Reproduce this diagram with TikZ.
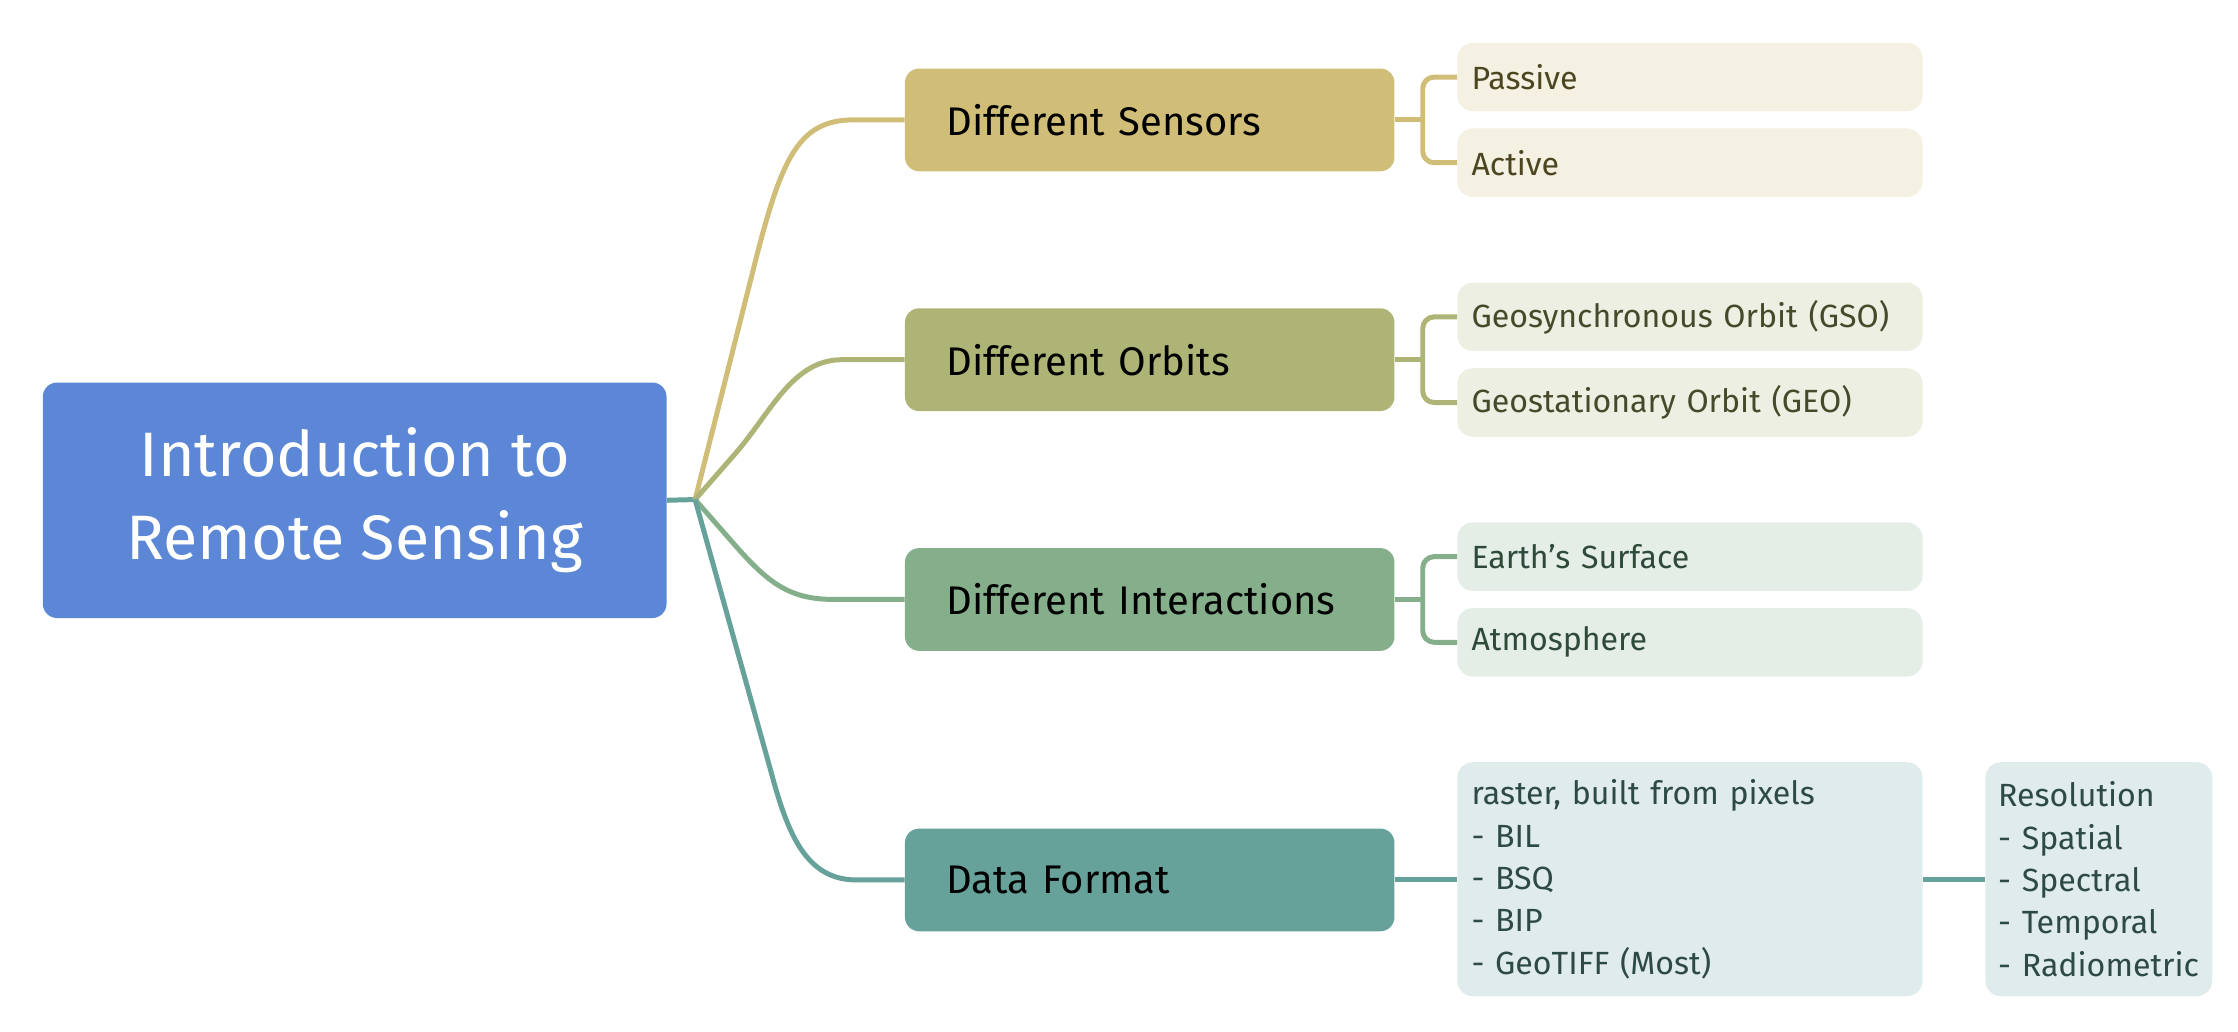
\documentclass[tikz,border=0pt]{standalone}
\usepackage{fontspec}
\setmainfont{Fira Sans}
\definecolor{rootc}{HTML}{5B87D6}
\definecolor{ca}{HTML}{D0BD77}\definecolor{la}{HTML}{F4F0E2}\definecolor{ta}{HTML}{4B4520}
\definecolor{cb}{HTML}{AEB475}\definecolor{lb}{HTML}{EEEFE3}\definecolor{tb}{HTML}{464A2A}
\definecolor{cc}{HTML}{84AF8A}\definecolor{lc}{HTML}{E4EEE6}\definecolor{tc}{HTML}{2F4A38}
\definecolor{cd}{HTML}{66A29A}\definecolor{ld}{HTML}{E0ECEB}\definecolor{td}{HTML}{2D4A45}
\tikzset{
  rootbox/.style={fill=rootc, rounded corners=10pt, minimum width=437pt, minimum height=165pt,
    text=white, align=center, inner sep=0pt, font=\fontsize{44}{58}\selectfont},
  branchbox/.style={rounded corners=10pt, minimum width=343pt, minimum height=72pt,
    text width=285pt, inner xsep=29pt, inner ysep=0pt, align=left, text=black,
    font=\fontsize{28}{32}\selectfont},
  leafbox/.style={rounded corners=11pt, minimum width=326pt, minimum height=48pt,
    text width=306pt, inner xsep=10pt, inner ysep=0pt, align=left,
    font=\fontsize{22.5}{26}\selectfont},
  listbox/.style={rounded corners=11pt, minimum height=164pt, inner xsep=10pt, inner ysep=0pt,
    align=left, font=\fontsize{22.5}{29.7}\selectfont},
  link/.style={line width=3.5pt, line join=round},
}
\begin{document}
\begin{tikzpicture}[x=1pt,y=-1pt]
\useasboundingbox (0,0) rectangle (1568,723);
% root
\node[rootbox] (root) at (248.5,350.5) {Introduction to\\Remote Sensing};
\coordinate (hub) at (487,350);
% branches
\node[branchbox, fill=ca] (s) at (805.5,84) {Different Sensors};
\node[branchbox, fill=cb] (o) at (805.5,252) {Different Orbits};
\node[branchbox, fill=cc] (i) at (805.5,420) {Different Interactions};
\node[branchbox, fill=cd] (d) at (805.5,616.5) {Data Format};
% leaves
\node[leafbox, fill=la, text=ta] (p) at (1184,54) {Passive};
\node[leafbox, fill=la, text=ta] (a) at (1184,114) {Active};
\node[leafbox, fill=lb, text=tb] (gso) at (1184,222) {Geosynchronous Orbit (GSO)};
\node[leafbox, fill=lb, text=tb] (geo) at (1184,282) {Geostationary Orbit (GEO)};
\node[leafbox, fill=lc, text=tc] (es) at (1184,390) {Earth's Surface};
\node[leafbox, fill=lc, text=tc] (at) at (1184,450) {Atmosphere};
\node[listbox, fill=ld, text=td, minimum width=326pt, text width=306pt] (r) at (1184,616)
  {raster, built from pixels\\- BIL\\- BSQ\\- BIP\\- GeoTIFF (Most)};
\node[listbox, fill=ld, text=td, minimum width=159pt, text width=141pt, inner xsep=9pt] (res) at (1470.5,616)
  {Resolution\\- Spatial\\- Spectral\\- Temporal\\- Radiometric};
% connectors root -> branches
\draw[link, cd] (root.east) -- (hub);
\draw[link, ca] (hub) -- (530,180) .. controls (548,110) and (560,84) .. (598,84) -- (s.west);
\draw[link, cb] (hub) -- (515,318) .. controls (540,289.4) and (555,252) .. (590,252) -- (o.west);
\draw[link, cc] (hub) -- (515,382) .. controls (540,410.6) and (555,420) .. (585,420) -- (i.west);
\draw[link, cd] (hub) -- (540,540) .. controls (552,585) and (565,616.5) .. (600,616.5) -- (d.west);
% brackets
\draw[link, ca] (s.east) -- ++(20,0);
\draw[link, ca, rounded corners=8pt] (p.west) -- ++(-24,0) |- (a.west);
\draw[link, cb] (o.east) -- ++(20,0);
\draw[link, cb, rounded corners=8pt] (gso.west) -- ++(-24,0) |- (geo.west);
\draw[link, cc] (i.east) -- ++(20,0);
\draw[link, cc, rounded corners=8pt] (es.west) -- ++(-24,0) |- (at.west);
\draw[link, cd] (d.east) -- (d.east -| r.west);
\draw[link, cd] (r.east) -- (res.west);
\end{tikzpicture}
\end{document}
